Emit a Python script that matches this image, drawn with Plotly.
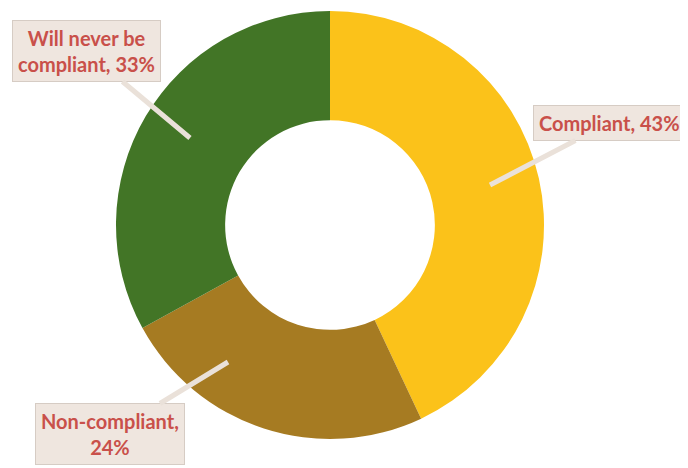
import plotly.graph_objects as go

labels = ["Compliant", "Non-compliant", "Will never be compliant"]
values = [43, 24, 33]
label_text = ["Compliant, 43%", "Non-compliant,<br>24%", "Will never be<br>compliant, 33%"]
colors = ["#FBC21A", "#A67B22", "#427526"]

W, H = 688, 468
OFF = 8  # page body margin shifts the figure by 8px

def px_x(x):
    return (x - OFF) / W

def px_y(y):
    return 1 - (y - OFF) / H

fig = go.Figure()
fig.add_trace(go.Pie(labels=labels, values=values, hole=0.49, sort=False,
                     direction="clockwise", rotation=0,
                     marker=dict(colors=colors, line=dict(width=0)),
                     textinfo="none", hoverinfo="label+percent",
                     domain=dict(x=[px_x(116), px_x(544)], y=[px_y(439), px_y(11)])))

# callout positions: tip in page px, box centre offset in px
callouts = [
    dict(x=490, y=185, ax=119, ay=-62),
    dict(x=228, y=362, ax=-118, ay=72),
    dict(x=190, y=138, ax=-104, ay=-87),
]
for txt, c in zip(label_text, callouts):
    fig.add_annotation(x=px_x(c["x"]), y=px_y(c["y"]), xref="paper", yref="paper",
                       ax=c["ax"], ay=c["ay"], text="<b>" + txt + "</b>",
                       showarrow=True, arrowhead=0, arrowwidth=5, arrowcolor="#EAE1D9",
                       bgcolor="#EFE6DF", bordercolor="#D6CCC4", borderwidth=1, borderpad=5,
                       font=dict(family="Lato", size=20, color="#C9504A"))

fig.update_layout(width=W, height=H, showlegend=False,
                  margin=dict(l=0, r=0, t=0, b=0),
                  paper_bgcolor="white", plot_bgcolor="white")
fig.write_html("out.html")
